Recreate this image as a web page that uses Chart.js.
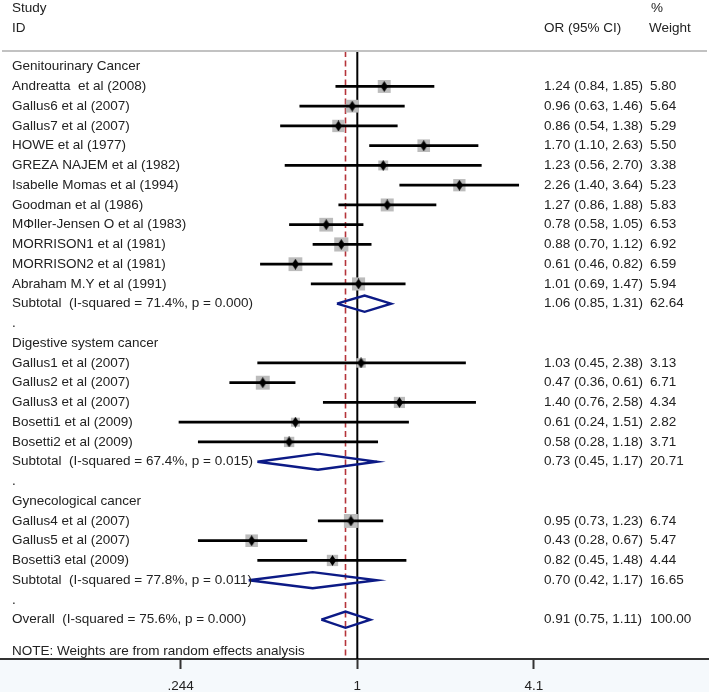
<!DOCTYPE html>
<html>
<head>
<meta charset="utf-8">
<script src="https://cdn.jsdelivr.net/npm/chart.js@4.4.0/dist/chart.umd.min.js"></script>
<style>
  body { margin: 0; background: #fff; }
  #wrap { width: 709px; height: 692px; position: relative; }
</style>
</head>
<body>
<div id="wrap"><canvas id="forest"></canvas></div>
<script>
// one entry per table row, top to bottom
const rowLabels = [
    "Genitourinary Cancer",
    "Andreatta  et al (2008)",
    "Gallus6 et al (2007)",
    "Gallus7 et al (2007)",
    "HOWE et al (1977)",
    "GREZA NAJEM et al (1982)",
    "Isabelle Momas et al (1994)",
    "Goodman et al (1986)",
    "M\u03A6ller-Jensen O et al (1983)",
    "MORRISON1 et al (1981)",
    "MORRISON2 et al (1981)",
    "Abraham M.Y et al (1991)",
    "Subtotal  (I-squared = 71.4%, p = 0.000)",
    ".",
    "Digestive system cancer",
    "Gallus1 et al (2007)",
    "Gallus2 et al (2007)",
    "Gallus3 et al (2007)",
    "Bosetti1 et al (2009)",
    "Bosetti2 et al (2009)",
    "Subtotal  (I-squared = 67.4%, p = 0.015)",
    ".",
    "Gynecological cancer",
    "Gallus4 et al (2007)",
    "Gallus5 et al (2007)",
    "Bosetti3 etal (2009)",
    "Subtotal  (I-squared = 77.8%, p = 0.011)",
    ".",
    "Overall  (I-squared = 75.6%, p = 0.000)"
];
const rowKinds = [
    "group", "study", "study", "study", "study", "study", "study", "study", "study", "study", "study", "study", "pooled", "blank",
    "group", "study", "study", "study", "study", "study", "pooled", "blank",
    "group", "study", "study", "study", "pooled", "blank",
    "pooled"
];
const oddsRatio = [
    null, 1.24, 0.96, 0.86, 1.70, 1.23, 2.26, 1.27, 0.78, 0.88, 0.61, 1.01, 1.06, null,
    null, 1.03, 0.47, 1.40, 0.61, 0.58, 0.73, null,
    null, 0.95, 0.43, 0.82, 0.70, null,
    0.91
];
const ciLower = [
    null, 0.84, 0.63, 0.54, 1.10, 0.56, 1.40, 0.86, 0.58, 0.70, 0.46, 0.69, 0.85, null,
    null, 0.45, 0.36, 0.76, 0.24, 0.28, 0.45, null,
    null, 0.73, 0.28, 0.45, 0.42, null,
    0.75
];
const ciUpper = [
    null, 1.85, 1.46, 1.38, 2.63, 2.70, 3.64, 1.88, 1.05, 1.12, 0.82, 1.47, 1.31, null,
    null, 2.38, 0.61, 2.58, 1.51, 1.18, 1.17, null,
    null, 1.23, 0.67, 1.48, 1.17, null,
    1.11
];
const weights = [
    null, 5.80, 5.64, 5.29, 5.50, 3.38, 5.23, 5.83, 6.53, 6.92, 6.59, 5.94, 62.64, null,
    null, 3.13, 6.71, 4.34, 2.82, 3.71, 20.71, null,
    null, 6.74, 5.47, 4.44, 16.65, null,
    100.00
];
const xTicks = [0.244, 1, 4.1];
const xTickLabels = [".244", "1", "4.1"];
const noteText = "NOTE: Weights are from random effects analysis";

const FONT = '13.5px "Liberation Sans", Arial, sans-serif';
const TEXT_COLOR = "#222";
const Y_MIN = -0.795, Y_MAX = 29.99;
const DIAMOND_H = 0.41;   // half height of pooled diamonds, in row units
const overallOR = oddsRatio[oddsRatio.length - 1];

// small black diamond used as the point estimate marker
const marker = document.createElement("canvas");
marker.width = 7;
marker.height = 11;
const mctx = marker.getContext("2d");
mctx.fillStyle = "#000";
mctx.beginPath();
mctx.moveTo(3.5, 0);
mctx.lineTo(7, 5.5);
mctx.lineTo(3.5, 11);
mctx.lineTo(0, 5.5);
mctx.closePath();
mctx.fill();

const datasets = [];

// reference lines
datasets.push({
    data: [{ x: 1, y: Y_MIN }, { x: 1, y: Y_MAX }],
    borderColor: "#000", borderWidth: 2, pointRadius: 0, showLine: true, order: 10
});
datasets.push({
    data: [{ x: overallOR, y: Y_MIN }, { x: overallOR, y: Y_MAX }],
    borderColor: "#b5343a", borderWidth: 1.6, borderDash: [6, 3.5], pointRadius: 0, showLine: true, order: 9
});

// weight boxes (area proportional to weight)
const boxPts = [], boxRadius = [], markPts = [];
rowKinds.forEach((k, i) => {
    if (k !== "study") return;
    boxPts.push({ x: oddsRatio[i], y: i });
    boxRadius.push(3.8 * Math.sqrt(weights[i]));
    markPts.push({ x: oddsRatio[i], y: i });
    // confidence interval
    datasets.push({
        data: [{ x: ciLower[i], y: i }, { x: ciUpper[i], y: i }],
        borderColor: "#000", borderWidth: 2.8, pointRadius: 0, showLine: true, order: 5
    });
});
datasets.push({
    data: boxPts, pointStyle: "rect", pointRadius: boxRadius,
    backgroundColor: "#bcbcbc", borderWidth: 0, showLine: false, order: 8
});
datasets.push({
    data: markPts, pointStyle: marker, pointRadius: 5, showLine: false, order: 2
});

// pooled estimates as hollow diamonds
rowKinds.forEach((k, i) => {
    if (k !== "pooled") return;
    datasets.push({
        data: [
            { x: ciLower[i], y: i },
            { x: oddsRatio[i], y: i - DIAMOND_H },
            { x: ciUpper[i], y: i },
            { x: oddsRatio[i], y: i + DIAMOND_H },
            { x: ciLower[i], y: i }
        ],
        borderColor: "#0c1a86", borderWidth: 2.4, pointRadius: 0, showLine: true,
        borderJoinStyle: "miter", order: 1
    });
});

const tablePlugin = {
    id: "tableText",
    beforeDraw(chart) {
        const { ctx, chartArea, width, height } = chart;
        ctx.save();
        ctx.fillStyle = "#f5f9fc";
        ctx.fillRect(0, chartArea.bottom, width, height - chartArea.bottom);
        ctx.restore();
    },
    afterDraw(chart) {
        const { ctx, chartArea, scales } = chart;
        const y = scales.y;
        ctx.save();
        // header rule
        ctx.strokeStyle = "#c2c2c2";
        ctx.lineWidth = 2;
        ctx.beginPath();
        ctx.moveTo(2, chartArea.top);
        ctx.lineTo(707, chartArea.top);
        ctx.stroke();

        ctx.font = FONT;
        ctx.fillStyle = TEXT_COLOR;
        ctx.textBaseline = "middle";
        ctx.textAlign = "left";
        ctx.fillText("Study", 12, 8);
        ctx.fillText("ID", 12, 28);
        ctx.fillText("OR (95% CI)", 544, 28);
        ctx.fillText("%", 651, 8);
        ctx.fillText("Weight", 649, 28);

        rowLabels.forEach((lab, i) => {
            const py = y.getPixelForValue(i);
            ctx.fillText(lab, 12, py);
            if (oddsRatio[i] != null) {
                const txt = oddsRatio[i].toFixed(2) + " (" + ciLower[i].toFixed(2) + ", " + ciUpper[i].toFixed(2) + ")";
                ctx.fillText(txt, 544, py);
                ctx.fillText(weights[i].toFixed(2), 650, py);
            }
        });
        ctx.fillText(noteText, 12, y.getPixelForValue(29.6));
        ctx.restore();
    }
};

new Chart(document.getElementById("forest"), {
    type: "scatter",
    data: { datasets: datasets },
    options: {
        responsive: true,
        maintainAspectRatio: false,
        animation: false,
        layout: { autoPadding: false, padding: { top: 51, left: 0, right: 0, bottom: 0 } },
        plugins: { legend: { display: false }, tooltip: { enabled: false } },
        scales: {
            x: {
                type: "logarithmic",
                position: "bottom",
                min: 0.0576,
                max: 16.6,
                afterBuildTicks: s => { s.ticks = xTicks.map(v => ({ value: v })); },
                afterFit: s => { s.height = 33; },
                border: { display: true, color: "#333", width: 2 },
                grid: { drawOnChartArea: false, drawTicks: true, tickLength: 10, tickWidth: 2, tickColor: "#333" },
                ticks: {
                    autoSkip: false,
                    maxRotation: 0,
                    padding: 9,
                    color: TEXT_COLOR,
                    font: { family: '"Liberation Sans", Arial, sans-serif', size: 13.5 },
                    callback: (v, i) => xTickLabels[i]
                }
            },
            y: {
                type: "linear",
                display: false,
                reverse: true,
                min: Y_MIN,
                max: Y_MAX
            }
        }
    },
    plugins: [tablePlugin]
});
</script>
</body>
</html>
